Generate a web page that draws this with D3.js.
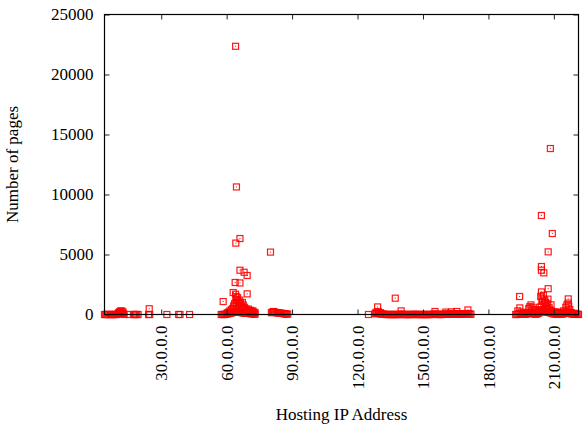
<!DOCTYPE html>
<html>
<head>
<meta charset="utf-8">
<script src="https://cdn.jsdelivr.net/npm/d3@7"></script>
<style>
  body { margin: 0; background: #fff; }
  svg text { font-family: "Liberation Serif", "Times New Roman", serif; font-size: 17px; fill: #000; }
</style>
</head>
<body>
<div id="chart"></div>
<script>
// hosting IP (first octet, fractional) vs number of pages hosted there

var xTicks = [30, 60, 90, 120, 150, 180, 210],
    yTicks = [0, 5000, 10000, 15000, 20000, 25000];

// dense runs of hosts sitting near zero pages
var band1 = [[4,0],[4.5,0],[5,0],[5.5,0],[6,0],[6.5,0],[7,0],[7.5,0],[8,0],[8.5,0],
             [9,0],[9.5,0],[10,40],[10.5,80],[11,100],[11.5,110],[12,90],[12.5,60],[13,0],
             [15.3,0],[17.3,0],[17.8,0],[18.3,0],[18.8,0],[19.4,0],[24.2,0],[24.7,0],
             [32.6,0],[38.0,0],[38.6,0],[43.0,0]];

var band2 = [[57.5,0],[58,0],[58.5,0],[59,0],[59.5,20],[60,40],[60.5,60],[61,80],[61.5,100],
             [62,120],[62.5,150],[63,180],[63.5,200],[64,250],[64.5,250],[65,220],[65.5,200],
             [66,200],[66.5,180],[67,150],[67.5,150],[68,120],[68.5,120],[69,100],[69.5,100],
             [70,90],[70.5,80],[71,80],[71.5,60],[72,60],[72.5,40],[73,20],
             [80.5,150],[81,200],[81.5,200],[82,180],[82.5,170],[83,150],[83.5,140],[84,120],
             [84.5,110],[85,100],[85.5,90],[86,80],[86.5,60],[87,50],[87.5,40],[88,30]];

var band3 = [[128,60],[128.5,100],[129,120],[129.5,100],[130,80],[130.5,60],[131,40],[131.5,30],
             [132,20],[132.5,10],[133,0],[133.5,0],[134,0],[134.5,0],[135,0],[135.5,0],[136,0],
             [136.5,0],[137,0],[137.5,0],[138,0],[138.5,0],[139,0],[139.5,0],[140,20],[140.5,20],
             [141,0],[141.5,0],[142,0],[142.5,0],[143,0],[143.5,0],[144,0],[144.5,0],[145,0],
             [145.5,0],[146,10],[146.5,10],[147,0],[147.5,0],[148,0],[148.5,0],[149,0],[149.5,0],
             [150,0],[150.5,0],[151,0],[151.5,0],[152,0],[152.5,0],[153,0],[153.5,0],[154,0],
             [154.5,10],[155,20],[155.5,30],[156,20],[156.5,10],[157,0],[157.5,0],[158,0],
             [158.5,0],[159,10],[159.5,10],[160,20],[160.5,30],[161,20],[161.5,20],[162,30],
             [162.5,30],[163,30],[163.5,30],[164,30],[164.5,40],[165,40],[165.5,50],[166,40],
             [166.5,40],[167,30],[167.5,30],[168,40],[168.5,50],[169,60],[169.5,60],[170,80],
             [170.5,80],[171,60],[171.5,40],[172,20]];

var band4 = [[192.5,0],[193,0],[193.5,20],[194,60],[194.5,80],[195,60],[195.5,30],[196,20],
             [196.5,20],[197,30],[197.5,40],[198,80],[198.5,120],[199,150],[199.5,150],[200,120],
             [200.5,80],[201,40],[201.5,30],[202,40],[202.5,60],[203,100],[203.5,200],[204,300],
             [204.5,350],[205,350],[205.5,300],[206,250],[206.5,200],[207,200],[207.5,180],
             [208,160],[208.5,150],[209,120],[209.5,80],[210,60],[210.5,40],[211,30],[211.5,30],
             [212,40],[212.5,40],[213,30],[213.5,30],[214,40],[214.5,80],[215,120],[215.5,180],
             [216,200],[216.5,200],[217,160],[217.5,100],[218,60],[218.5,40],[219,30],[219.5,30],
             [220,20],[220.5,20],[221,10],[221.3,0]];

// hosts standing out of the baseline
var peaks1 = [[10.5,150],[11,250],[11.5,300],[12,280],[12.5,200],[24.5,480]];

var peaks2 = [[64.1,22350],[64.5,10630],[66.1,6330],[64.2,5950],[80.1,5200],[66.1,3690],
              [68.0,3520],[69.4,3250],[63.9,2670],[66.1,2630],[63.0,1830],[64.1,1690],
              [69.4,1720],[58.4,1080],[64.3,1500],[64.5,1250],[64.2,1000],[64.6,800],
              [65.0,1400],[65.3,1100],[65.6,900],[66.0,1200],[66.3,950],[66.8,700],[67.2,1000],
              [67.6,800],[68.1,600],[68.5,500],[63.2,700],[63.6,900],[62.8,500],[62.2,400],
              [61.5,300],[61.0,200],[60.3,150],[69.0,400],[69.5,350],[70.0,450],[70.5,300],
              [71.0,350],[71.5,250],[72.0,300],[72.5,200],[73.0,150],[65.8,600],[67.0,500],
              [68.8,250],[70.2,150],[81.5,250]];

var peaks3 = [[125.0,0],[129.2,630],[137.3,1360],[128.5,180],[129.5,250],[130.5,150],
              [140.0,300],[155.5,250],[160.5,200],[163.0,220],[165.5,250],[170.6,380]];

var peaks4 = [[208.4,13830],[204.3,8250],[209.3,6750],[207.4,5220],[204.3,4000],[204.3,3690],
              [205.4,3470],[207.4,2150],[204.3,1880],[194.3,1500],[216.6,1300],[207.3,1280],
              [199.5,800],[194.4,550],[208.7,800],[216.6,950],[212.5,200],[204.0,1500],
              [204.5,1300],[204.8,1100],[205.2,1600],[205.5,900],[204.2,700],[205.8,1200],
              [206.2,1000],[206.5,700],[203.5,600],[203.8,400],[206.8,500],[207.0,900],
              [207.8,600],[208.0,400],[208.8,300],[209.5,250],[210.5,200],[211.5,180],
              [213.0,150],[214.5,300],[215.5,600],[216.0,800],[216.8,700],[217.3,400],
              [218.0,150],[219.0,100],[220.0,80],[198.5,500],[199.0,650],[200.0,600],
              [200.5,400],[201.0,300],[193.5,300],[195.0,200],[196.0,150],[202.0,200],[203.0,300]];

var points = [].concat(band1, band2, band3, band4, peaks1, peaks2, peaks3, peaks4);

var width = 584, height = 425;
// plot frame (named so they don't clash with window.top)
var pLeft = 104.5, pRight = 578.5, pTop = 14.5, pBottom = 314.5;

var svg = d3.select("#chart").append("svg")
            .attr("width", width)
            .attr("height", height);

var xScale = d3.scaleLinear().domain([4, 221.3]).range([pLeft, pRight]);
var yScale = d3.scaleLinear().domain([0, 25000]).range([pBottom, pTop]);

// markers: open square with a dot in the middle
var marks = svg.append("g").attr("class", "points");
var msize = 6;

marks.selectAll("rect.sq")
     .data(points)
     .enter()
     .append("rect")
     .attr("class", "sq")
     .attr("x", d => xScale(d[0]) - msize / 2)
     .attr("y", d => yScale(d[1]) - msize / 2)
     .attr("width", msize)
     .attr("height", msize)
     .style("fill", "none")
     .style("stroke", "#ff0000")
     .style("stroke-width", 1.2)
     .style("stroke-opacity", 0.9);

marks.selectAll("rect.dot")
     .data(points)
     .enter()
     .append("rect")
     .attr("class", "dot")
     .attr("x", d => xScale(d[0]) - 0.5)
     .attr("y", d => yScale(d[1]) - 0.5)
     .attr("width", 1)
     .attr("height", 1)
     .style("fill", "#ff0000");

// axes, ticks pointing inward, mirrored on top/right
var xAxis = d3.axisBottom(xScale)
              .tickValues(xTicks)
              .tickSize(-5)
              .tickPadding(11)
              .tickFormat(d => d + ".0.0.0");

var gx = svg.append("g")
            .attr("transform", "translate(0," + pBottom + ")")
            .call(xAxis);

gx.selectAll("text")
  .attr("transform", "rotate(-90)")
  .attr("x", -11)
  .attr("y", 0)
  .attr("dy", "0.33em")
  .style("text-anchor", "end");

var yAxis = d3.axisLeft(yScale)
              .tickValues(yTicks)
              .tickSize(-5)
              .tickPadding(11)
              .tickFormat(d3.format("d"));

svg.append("g")
   .attr("transform", "translate(" + pLeft + ",0)")
   .call(yAxis);

svg.append("g")
   .attr("transform", "translate(0," + pTop + ")")
   .call(d3.axisTop(xScale).tickValues(xTicks).tickSize(-5).tickFormat(""));

svg.append("g")
   .attr("transform", "translate(" + pRight + ",0)")
   .call(d3.axisRight(yScale).tickValues(yTicks).tickSize(-5).tickFormat(""));

svg.selectAll(".domain").remove();
svg.selectAll(".tick line").style("stroke", "#222").style("stroke-width", 1);
svg.selectAll(".tick text")
   .style("font-family", "'Liberation Serif', serif")
   .style("font-size", "17px")
   .style("fill", "#000");

// frame
svg.append("rect")
   .attr("x", pLeft)
   .attr("y", pTop)
   .attr("width", pRight - pLeft)
   .attr("height", pBottom - pTop)
   .style("fill", "none")
   .style("stroke", "#000")
   .style("stroke-width", 1.2);

// labels
svg.append("text")
   .attr("text-anchor", "middle")
   .attr("transform", "translate(17.5," + (pTop + pBottom) / 2 + ") rotate(-90)")
   .text("Number of pages");

svg.append("text")
   .attr("text-anchor", "middle")
   .attr("x", (pLeft + pRight) / 2)
   .attr("y", 420)
   .text("Hosting IP Address");
</script>
</body>
</html>
